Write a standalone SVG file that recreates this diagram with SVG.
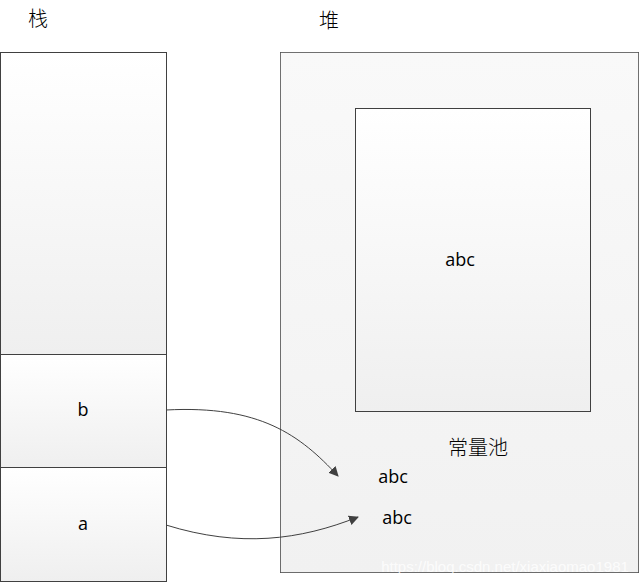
<svg xmlns="http://www.w3.org/2000/svg" width="642" height="584" viewBox="0 0 642 584">
<style>
.box{stroke:#404040;stroke-width:1;fill:url(#g)}
.lbl{font-family:"Open Sans","DejaVu Sans",sans-serif;font-size:18px;fill:#000;text-anchor:middle}
.cjk{font-family:"Noto Sans CJK SC",sans-serif;font-size:20px;font-weight:300;fill:#000;text-anchor:middle}
.conn{fill:none;stroke:#404040;stroke-width:1;marker-end:url(#ah)}
</style>
<defs>
<linearGradient id="g" x1="0" y1="0" x2="0" y2="1">
<stop offset="0" stop-color="#ffffff"/>
<stop offset="1" stop-color="#efefef"/>
</linearGradient>
<marker id="ah" viewBox="0 0 10 10" refX="9" refY="5" markerWidth="10" markerHeight="10" markerUnits="userSpaceOnUse" orient="auto">
<path d="M0,0 L10,5 L0,10 z" fill="#404040"/>
</marker>
</defs>
<rect width="642" height="584" fill="#fff"/>
<g id="labels">
<text class="cjk" x="38" y="26">栈</text>
<text class="cjk" x="329" y="28">堆</text>
</g>
<g id="heap">
<rect class="box" x="280.5" y="52.5" width="358" height="520" style="fill:#f3f3f3"/>
<rect x="280.5" y="52.5" width="358" height="520" fill="url(#g)" opacity="0.5"/>
<text class="cjk" x="478" y="455">常量池</text>
<text class="lbl" x="393" y="483">abc</text>
<text class="lbl" x="397" y="524">abc</text>
</g>
<g id="inner">
<rect class="box" x="355.5" y="108.5" width="235" height="303"/>
<text class="lbl" x="460" y="266">abc</text>
</g>
<g id="stack-top">
<rect class="box" x="0.5" y="52.5" width="166" height="302"/>
</g>
<g id="stack-b">
<rect class="box" x="0.5" y="354.5" width="166" height="113"/>
<text class="lbl" x="83" y="416">b</text>
</g>
<g id="stack-a">
<rect class="box" x="0.5" y="467.5" width="166" height="114"/>
<text class="lbl" x="83" y="530">a</text>
</g>
<g id="connectors">
<path class="conn" d="M166,410 C260,405 300,435 338,476"/>
<path class="conn" d="M166,525 C240,548 300,540 358,517"/>
</g>
<text x="505" y="572" font-family="Liberation Sans,sans-serif" font-size="15" fill="#ffffff" fill-opacity="0.8" text-anchor="middle">https://blog.csdn.net/xiaxiaomao1981</text>
</svg>
